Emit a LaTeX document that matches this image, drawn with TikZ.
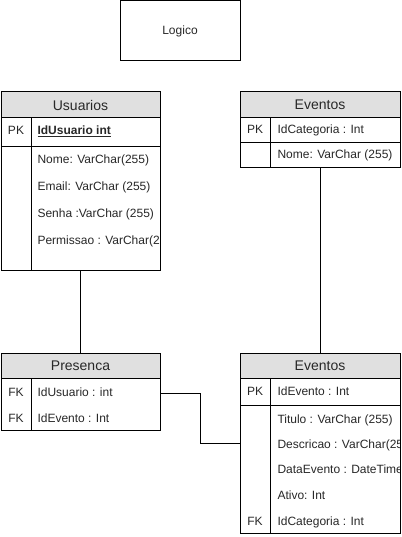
\documentclass[tikz,border=0pt]{standalone}
\usepackage{fontspec}
\setmainfont{Liberation Sans}
\definecolor{hdr}{RGB}{224,224,224}
\definecolor{txt}{RGB}{40,40,40}
\begin{document}
\begin{tikzpicture}[x=1pt,y=-1pt,line width=1pt,
  box/.style={draw=black, fill=white, inner sep=0pt, outer sep=0pt},
  hbox/.style={draw=black, fill=hdr, inner sep=0pt, outer sep=0pt, text=txt, font=\fontsize{14}{16}\selectfont},
  rowtxt/.style={anchor=west, inner sep=0pt, text height=9pt, text depth=3pt, text=txt, font=\fontsize{12}{14}\selectfont},
  keytxt/.style={anchor=center, inner sep=0pt, text height=9pt, text depth=3pt, text=txt, font=\fontsize{12}{14}\selectfont},
  conn/.style={draw=black, line width=1pt}
]
\useasboundingbox (0,0) rectangle (401,537);
\fill[white] (0,0) rectangle (401,537);

% Logico
\node[box, minimum width=120pt, minimum height=60pt, text=txt, font=\fontsize{12}{14}\selectfont] (log) at (180,31) {Logico};

% ---------- Usuarios ----------
\node[box, minimum width=159pt, minimum height=178pt] (usu) at (80.5,181) {};
\node[hbox, minimum width=159pt, minimum height=26pt] (usuh) at (80.5,105) {Usuarios};
\draw (31,118) -- (31,270);
\draw (1,147) -- (160,147);
\begin{scope}
\clip (usu.north west) rectangle (usu.south east);
\node[keytxt] (usuk1) at (16,132) {PK};
\node[rowtxt] (usur1) at (37,132) {\bfseries\underline{IdUsuario int}};
\node[rowtxt] (usur2) at (37,161) {Nome: VarChar(255)};
\node[rowtxt] (usur3) at (37,188) {Email: VarChar (255)};
\node[rowtxt] (usur4) at (37,214) {Senha :VarChar (255)};
\node[rowtxt] (usur5) at (37,241) {Permissao : VarChar(255)};
\end{scope}
\draw (usu.north west) rectangle (usu.south east);

% ---------- Eventos (top) ----------
\node[box, minimum width=160pt, minimum height=76pt] (evc) at (320,130) {};
\node[hbox, minimum width=160pt, minimum height=26pt] (evch) at (320,105) {Eventos};
\draw (270,118) -- (270,168);
\draw (240,143) -- (400,143);
\node[keytxt] (evck1) at (255,131) {PK};
\node[rowtxt] (evcr1) at (277,131) {IdCategoria : Int};
\node[rowtxt] (evcr2) at (277,156) {Nome: VarChar (255)};

% ---------- Presenca ----------
\node[box, minimum width=159pt, minimum height=77pt] (pres) at (80.5,391.5) {};
\node[hbox, minimum width=159pt, minimum height=25pt] (presh) at (80.5,365.5) {Presenca};
\draw (31,378) -- (31,430);
\node[keytxt] (presk1) at (16,393) {FK};
\node[rowtxt] (presr1) at (37,393) {IdUsuario : int};
\node[keytxt] (presk2) at (16,419) {FK};
\node[rowtxt] (presr2) at (37,419) {IdEvento : Int};

% ---------- Eventos (bottom) ----------
\node[box, minimum width=160pt, minimum height=180pt] (evb) at (320,443) {};
\node[hbox, minimum width=160pt, minimum height=25pt] (evbh) at (320,365.5) {Eventos};
\draw (270,378) -- (270,533);
\draw (240,405) -- (400,405);
\begin{scope}
\clip (evb.north west) rectangle (evb.south east);
\node[keytxt] (evbk1) at (255,392) {PK};
\node[rowtxt] (evbr1) at (277,392) {IdEvento : Int};
\node[rowtxt] (evbr2) at (277,420) {Titulo : VarChar (255)};
\node[rowtxt] (evbr3) at (277,445) {Descricao : VarChar(255)};
\node[rowtxt] (evbr4) at (277,470) {DataEvento : DateTime};
\node[rowtxt] (evbr5) at (277,496) {Ativo: Int};
\node[keytxt] (evbk6) at (255,522) {FK};
\node[rowtxt] (evbr6) at (277,522) {IdCategoria : Int};
\end{scope}
\draw (evb.north west) rectangle (evb.south east);

% ---------- connectors ----------
\coordinate (pout) at (pres.east |- presr1.center);
\coordinate (ein) at (240,443);
\draw[conn] (usu.south) -- (pres.north);
\draw[conn] (evc.south) -- (evb.north);
\draw[conn] (pout) -- (200,393) |- (ein);
\end{tikzpicture}
\end{document}
